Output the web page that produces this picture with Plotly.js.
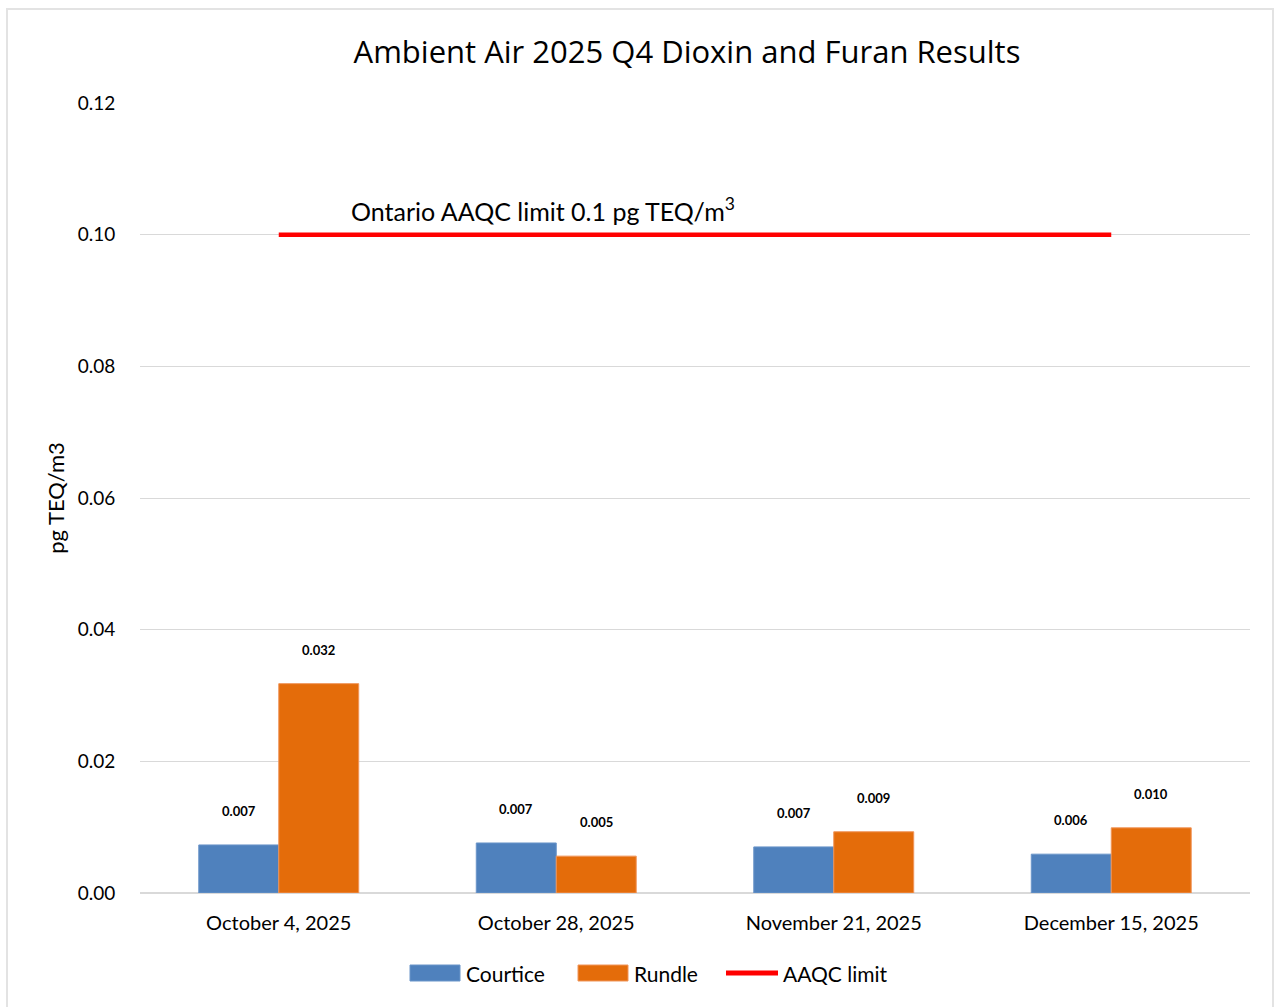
<!DOCTYPE html>
<html><head><meta charset="utf-8">
<script src="https://cdn.plot.ly/plotly-3.0.1.min.js"></script>
<style>
html,body{margin:0;padding:0;background:#fff;}
#frame{position:absolute;left:6px;top:8px;width:1268px;height:1010px;border:2px solid #e3e3e3;box-sizing:border-box;}
#chart{position:absolute;left:0;top:0;width:1282px;height:1007px;}
</style></head>
<body>
<div id="frame"></div>
<div id="chart"></div>
<script>
const categories = ["October 4, 2025", "October 28, 2025", "November 21, 2025", "December 15, 2025"];
const courtice = [0.0073, 0.0076, 0.0070, 0.0059];
const rundle = [0.0318, 0.0056, 0.0093, 0.0099];
const courticeLabels = ["0.007", "0.007", "0.007", "0.006"];
const rundleLabels = ["0.032", "0.005", "0.009", "0.010"];
const aaqcLimit = [0.1, 0.1, 0.1, 0.1];
const yTicks = [0, 0.02, 0.04, 0.06, 0.08, 0.10, 0.12];
const yTickText = ["0.00", "0.02", "0.04", "0.06", "0.08", "0.10", "0.12"];
const seriesNames = ["Courtice", "Rundle", "AAQC limit"];
const seriesColors = ["#4F81BD", "#E46C0A", "#FF0000"];

const FONT = "Lato, 'Open Sans', sans-serif";
const TFONT = "'Open Sans', Lato, sans-serif";
const traces = [
  {type:'bar', name:seriesNames[0], x:categories, y:courtice,
   marker:{color:seriesColors[0], line:{color:'#6b95c9', width:1}}, hoverinfo:'y'},
  {type:'bar', name:seriesNames[1], x:categories, y:rundle,
   marker:{color:seriesColors[1], line:{color:'#f0955a', width:1}}, hoverinfo:'y'},
  {type:'scatter', mode:'lines', name:seriesNames[2], x:categories, y:aaqcLimit,
   line:{color:seriesColors[2], width:4.5}}
];

// pixel helpers for legend placement (plot area x 140..1250, y 103..893)
const px = v => (v-140)/1110;
const py = v => (893-v)/790;

const annotations = [];
categories.forEach((c,i)=>{
  annotations.push({x:c, y:courtice[i], xref:'x', yref:'y', text:courticeLabels[i], showarrow:false,
    xshift:-40, yshift:24, yanchor:'bottom', font:{family:FONT, size:13, color:'#000', weight:'bold'}});
  annotations.push({x:c, y:rundle[i], xref:'x', yref:'y', text:rundleLabels[i], showarrow:false,
    xshift:40, yshift:24, yanchor:'bottom', font:{family:FONT, size:13, color:'#000', weight:'bold'}});
});
annotations.push({xref:'paper', yref:'y', x:px(349), y:aaqcLimit[0], xanchor:'left', yanchor:'middle', yshift:25,
  text:'Ontario AAQC limit 0.1 pg TEQ/m<sup>3</sup>', showarrow:false, font:{family:FONT, size:25, color:'#000'}});

// custom legend (wide swatches as in reference)
const legendText = [464, 632, 781];
seriesNames.forEach((n,i)=>{
  annotations.push({xref:'paper', yref:'paper', x:px(legendText[i]), y:py(973), xanchor:'left', yanchor:'middle',
    text:n, showarrow:false, font:{family:FONT, size:21, color:'#000'}});
});
const shapes = [
  {type:'rect', xref:'paper', yref:'paper', x0:px(410), x1:px(460), y0:py(981), y1:py(965),
   fillcolor:seriesColors[0], line:{color:'#6b95c9', width:1}},
  {type:'rect', xref:'paper', yref:'paper', x0:px(578), x1:px(628), y0:py(981), y1:py(965),
   fillcolor:seriesColors[1], line:{color:'#f0955a', width:1}},
  {type:'line', xref:'paper', yref:'paper', x0:px(726), x1:px(778), y0:py(973), y1:py(973),
   line:{color:seriesColors[2], width:5}}
];

const layout = {
  width:1282, height:1007,
  paper_bgcolor:'rgba(0,0,0,0)', plot_bgcolor:'#fff',
  margin:{l:140, r:32, t:103, b:114},
  font:{family:FONT, color:'#000'},
  title:{text:'Ambient Air 2025 Q4 Dioxin and Furan Results', font:{family:TFONT, size:31, color:'#000'},
    x:687/1282, xanchor:'center', y:0.948, yanchor:'middle'},
  barmode:'group', bargap:0.4236, bargroupgap:0,
  xaxis:{type:'category', showgrid:false, zeroline:false, showline:false,
    tickfont:{family:FONT, size:20, color:'#000'}, ticks:'outside', ticklen:12, tickcolor:'rgba(0,0,0,0)'},
  yaxis:{range:[0,0.12], tickvals:yTicks, ticktext:yTickText, showgrid:true, gridcolor:'#d9d9d9', gridwidth:1,
    zeroline:true, zerolinecolor:'#d9d9d9', zerolinewidth:2, showline:false,
    tickfont:{family:FONT, size:19, color:'#000'}, ticks:'outside', ticklen:20, tickcolor:'rgba(0,0,0,0)',
    title:{text:'pg TEQ/m3', font:{family:FONT, size:22, color:'#000'}, standoff:6}},
  showlegend:false,
  annotations:annotations,
  shapes:shapes
};
Plotly.newPlot('chart', traces, layout, {displayModeBar:false, staticPlot:true});
</script>
</body></html>
